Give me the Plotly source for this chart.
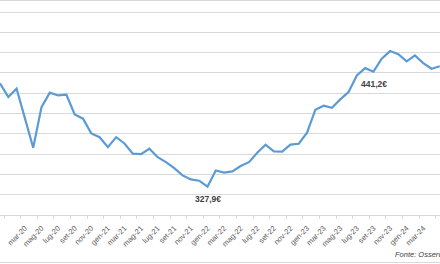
import plotly.graph_objects as go

categories = ["dic-19",
              "gen-20", "feb-20", "mar-20", "apr-20", "mag-20", "giu-20", "lug-20", "ago-20", "set-20", "ott-20", "nov-20", "dic-20",
              "gen-21", "feb-21", "mar-21", "apr-21", "mag-21", "giu-21", "lug-21", "ago-21", "set-21", "ott-21", "nov-21", "dic-21",
              "gen-22", "feb-22", "mar-22", "apr-22", "mag-22", "giu-22", "lug-22", "ago-22", "set-22", "ott-22", "nov-22", "dic-22",
              "gen-23", "feb-23", "mar-23", "apr-23", "mag-23", "giu-23", "lug-23", "ago-23", "set-23", "ott-23", "nov-23", "dic-23",
              "gen-24", "feb-24", "mar-24", "apr-24", "mag-24"]

values = [429.7, 416.2, 424.4, 394.2, 366.3, 406.3, 420.5, 417.8, 418.5, 399.1, 394.9, 380.4, 376.6,
          366.9, 376.7, 370.5, 360.4, 360.0, 365.3, 357.0, 352.1, 346.2, 339.0, 335.1, 333.8,
          327.9, 343.9, 341.7, 343.0, 348.2, 352.1, 361.4, 369.3, 362.7, 362.4, 369.3, 370.2,
          381.1, 403.7, 407.7, 405.7, 413.9, 421.1, 437.5, 444.7, 441.2, 454.0, 461.5, 458.5,
          451.3, 457.2, 449.7, 444.1, 446.6]

labelled = {"gen-22": "327,9€", "set-23": "441,2€"}
source_text = "Fonte: Osservatorio prezzi"

idx = list(range(len(categories)))
grid = "#d9d9d9"
font = "Liberation Sans, Arial, sans-serif"

fig = go.Figure()
fig.add_trace(go.Scatter(x=idx, y=values, mode="lines",
                         line=dict(color="#5B9BD5", width=2.2),
                         hoverinfo="skip", showlegend=False))
fig.add_trace(go.Scatter(x=idx, y=values, mode="lines", xaxis="x2",
                         line=dict(color="rgba(0,0,0,0)", width=0),
                         hoverinfo="skip", showlegend=False))

annotations = []
for cat, txt in labelled.items():
    i = categories.index(cat)
    annotations.append(dict(x=i, y=values[i], xref="x", yref="y", text=txt,
                            showarrow=False, yshift=-12.5, xshift=1,
                            font=dict(family=font, size=8.5, color="#404040", weight="bold")))
annotations.append(dict(x=393 / 440, y=-0.186, xref="paper", yref="paper",
                        text="<i>" + source_text + "</i>", showarrow=False,
                        xanchor="left", yanchor="middle",
                        font=dict(family=font, size=7.5, color="#404040")))

x_range = [0, 53.02]
fig.update_layout(
    width=440, height=264,
    margin=dict(l=0, r=0, t=0, b=49),
    paper_bgcolor="white", plot_bgcolor="white",
    xaxis=dict(range=x_range, tickvals=idx[1::2], ticktext=categories[1::2],
               tickangle=-45, ticks="outside", ticklen=5, tickcolor="rgba(0,0,0,0)",
               showgrid=False, zeroline=False, showline=False,
               tickfont=dict(family=font, size=7.5, color="#595959")),
    xaxis2=dict(range=x_range, overlaying="x", side="bottom", anchor="y",
                tickvals=[i + 0.5 for i in idx[::2]], ticks="outside", ticklen=3,
                tickcolor=grid, showticklabels=False, showgrid=False,
                zeroline=False, showline=True, linecolor=grid, linewidth=1),
    yaxis=dict(range=[300, 300 + 215 / 1.015], dtick=20, tick0=300,
               showgrid=True, gridcolor=grid, gridwidth=1,
               showticklabels=False, zeroline=False, showline=False),
    annotations=annotations,
    shapes=[
        dict(type="line", xref="paper", yref="paper", x0=0, x1=1,
             y0=1 - 0.5 / 215, y1=1 - 0.5 / 215, line=dict(color=grid, width=1)),
        dict(type="line", xref="paper", yref="paper", x0=0, x1=1,
             y0=(215 - 262.5) / 215, y1=(215 - 262.5) / 215, line=dict(color=grid, width=1)),
    ],
)

fig.write_html("out.html")
